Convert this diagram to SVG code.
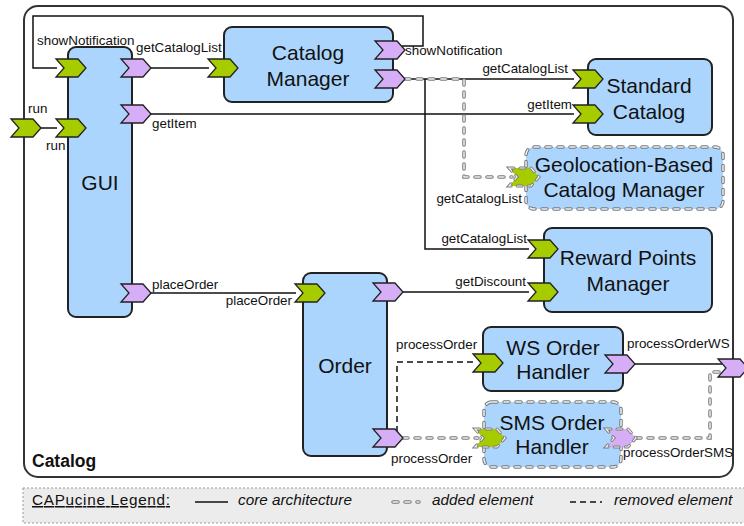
<svg xmlns="http://www.w3.org/2000/svg" xmlns:xlink="http://www.w3.org/1999/xlink" width="744" height="526" viewBox="0 0 744 526">
<style>
.frame{fill:#fff;stroke:#333;stroke-width:2}
.node{fill:#abd5fd;stroke:#222;stroke-width:2}
.nadd{fill:#abd5fd;stroke:#7a7a7a;stroke-width:3.5;stroke-dasharray:5 7;stroke-linecap:round}
.nadd-in{fill:none;stroke:#eef2f6;stroke-width:1.5;stroke-dasharray:5 7;stroke-linecap:round}
.pg{fill:#a6cc00;stroke:#222;stroke-width:1.3;stroke-linejoin:miter}
.pp{fill:#d6adf7;stroke:#222;stroke-width:1.3}
.pga{fill:#a6cc00;stroke:#7a7a7a;stroke-width:3;stroke-dasharray:5 6;stroke-linecap:round}
.ppa{fill:#d6adf7;stroke:#7a7a7a;stroke-width:3;stroke-dasharray:5 6;stroke-linecap:round}
.pa-in{fill:none;stroke:#f2f2f2;stroke-width:1.2;stroke-dasharray:5 6;stroke-linecap:round}
.c{fill:none;stroke:#111;stroke-width:1.5}
.add{fill:none;stroke:#7a7a7a;stroke-width:3.5;stroke-dasharray:5 7;stroke-linecap:round}
.add-in{fill:none;stroke:#eeeeee;stroke-width:1.5;stroke-dasharray:5 7;stroke-linecap:round}
.rem{fill:none;stroke:#111;stroke-width:1.5;stroke-dasharray:6 4}
.t{font-family:"Liberation Sans",Arial,sans-serif;font-size:21px;fill:#111;text-anchor:middle}
.l{font-family:"Liberation Sans",Arial,sans-serif;font-size:13.4px;fill:#111}
.e{text-anchor:end}
.lg{font-family:"Liberation Sans",Arial,sans-serif;font-size:15.3px;fill:#111}
.it{font-style:italic}
</style>
<defs>
<path id="chev" d="M0,0 H22 L30,9 L22,18 H0 L8,9 Z"/>
</defs>

<g id="catalog">
<rect class="frame" x="24" y="6" width="709" height="471" rx="14"/>
<text x="32" y="467" font-family="Liberation Sans,Arial,sans-serif" font-size="17.5" font-weight="bold" fill="#111">Catalog</text>
</g>

<g id="connectors">
<path class="c" d="M41,128 H57"/>
<path class="c" d="M402,46 H423 V16 H33 V68 H57"/>
<path class="c" d="M151,68 H209"/>
<path class="c" d="M151,114 H574"/>
<path class="c" d="M404,79 H574"/>
<path class="c" d="M425,79 V249 H529"/>
<path class="c" d="M151,293 H296"/>
<path class="c" d="M403,292 H529"/>
<path class="c" d="M634,364 H722"/>
<path class="add" d="M405,79 H464 V177 H512"/>
<path class="add-in" d="M405,79 H464 V177 H512"/>
<path class="add" d="M403,438 H478"/>
<path class="add-in" d="M403,438 H478"/>
<path class="add" d="M636,438 H710 V372 H721"/>
<path class="add-in" d="M636,438 H710 V372 H721"/>
<path class="rem" d="M397,432 V362 H474"/>
</g>

<g id="outer-ports">
<use href="#chev" class="pg" x="11" y="119"/>
<use href="#chev" class="pp" x="718" y="359"/>
<text class="l" x="28" y="113">run</text>
</g>

<g id="gui">
<rect class="node" x="68" y="47" width="64" height="270" rx="8"/>
<text class="t" x="100" y="190">GUI</text>
<use href="#chev" class="pg" x="56" y="59"/>
<use href="#chev" class="pg" x="56" y="119"/>
<use href="#chev" class="pp" x="121" y="59"/>
<use href="#chev" class="pp" x="121" y="105"/>
<use href="#chev" class="pp" x="121" y="284"/>
<text class="l" x="37" y="45">showNotification</text>
<text class="l" x="46" y="150">run</text>
<text class="l" x="136" y="52">getCatalogList</text>
<text class="l" x="152" y="128">getItem</text>
<text class="l" x="152" y="289">placeOrder</text>
</g>

<g id="catalog-manager">
<rect class="node" x="224" y="27" width="169" height="75" rx="8"/>
<text class="t" x="308" y="60">Catalog</text>
<text class="t" x="308" y="86">Manager</text>
<use href="#chev" class="pg" x="208" y="59"/>
<use href="#chev" class="pp" x="375" y="41"/>
<use href="#chev" class="pp" x="375" y="70"/>
<text class="l" x="405" y="55">showNotification</text>
</g>

<g id="standard-catalog">
<rect class="node" x="588" y="59" width="124" height="76" rx="8"/>
<text class="t" x="649" y="93">Standard</text>
<text class="t" x="649" y="119">Catalog</text>
<use href="#chev" class="pg" x="573" y="70"/>
<use href="#chev" class="pg" x="573" y="105"/>
<text class="l e" x="568" y="73">getCatalogList</text>
<text class="l e" x="572" y="109">getItem</text>
</g>

<g id="geolocation-catalog-manager">
<rect class="nadd" x="526" y="147" width="197" height="62" rx="8"/>
<rect class="nadd-in" x="526" y="147" width="197" height="62" rx="8"/>
<text class="t" x="624" y="172">Geolocation-Based</text>
<text class="t" x="624" y="197">Catalog Manager</text>
<use href="#chev" class="pga" x="509" y="168"/>
<use href="#chev" class="pa-in" x="509" y="168"/>
<text class="l e" x="522" y="203">getCatalogList</text>
</g>

<g id="reward-points-manager">
<rect class="node" x="544" y="228" width="168" height="84" rx="8"/>
<text class="t" x="628" y="265">Reward Points</text>
<text class="t" x="628" y="291">Manager</text>
<use href="#chev" class="pg" x="528" y="240"/>
<use href="#chev" class="pg" x="528" y="283"/>
<text class="l e" x="527" y="243">getCatalogList</text>
<text class="l e" x="526" y="286">getDiscount</text>
</g>

<g id="order">
<rect class="node" x="303" y="273" width="84" height="183" rx="8"/>
<text class="t" x="345" y="373">Order</text>
<use href="#chev" class="pg" x="295" y="284"/>
<use href="#chev" class="pp" x="373" y="283"/>
<use href="#chev" class="pp" x="373" y="429"/>
<text class="l e" x="292" y="305">placeOrder</text>
<text class="l" x="391" y="463">processOrder</text>
</g>

<g id="ws-order-handler">
<rect class="node" x="483" y="327" width="140" height="64" rx="8"/>
<text class="t" x="553" y="355">WS Order</text>
<text class="t" x="553" y="379">Handler</text>
<use href="#chev" class="pg" x="473" y="354"/>
<use href="#chev" class="pp" x="605" y="355"/>
<text class="l" x="396" y="349">processOrder</text>
<text class="l" x="627" y="348">processOrderWS</text>
</g>

<g id="sms-order-handler">
<rect class="nadd" x="484" y="402" width="137" height="65" rx="8"/>
<rect class="nadd-in" x="484" y="402" width="137" height="65" rx="8"/>
<text class="t" x="552" y="430">SMS Order</text>
<text class="t" x="552" y="454">Handler</text>
<use href="#chev" class="pga" x="475" y="429"/>
<use href="#chev" class="pa-in" x="475" y="429"/>
<use href="#chev" class="ppa" x="606" y="429"/>
<use href="#chev" class="pa-in" x="606" y="429"/>
<text class="l" x="623" y="457">processOrderSMS</text>
</g>

<g id="legend">
<rect x="23" y="488" width="740" height="35" fill="#ececec" stroke="#999" stroke-width="1" stroke-dasharray="2 2"/>
<text class="lg" x="32" y="505" textLength="138" text-decoration="underline">CAPucine Legend:</text>
<path class="c" d="M195,502 H228"/>
<text class="lg it" x="238" y="505">core architecture</text>
<path class="add" d="M393,502 H419" stroke-width="3" stroke-dasharray="4 6"/>
<path class="add-in" d="M393,502 H419" stroke-width="1.2" stroke-dasharray="4 6"/>
<text class="lg it" x="432" y="505">added element</text>
<path class="rem" d="M570,502 H602"/>
<text class="lg it" x="614" y="505">removed element</text>
</g>
</svg>
